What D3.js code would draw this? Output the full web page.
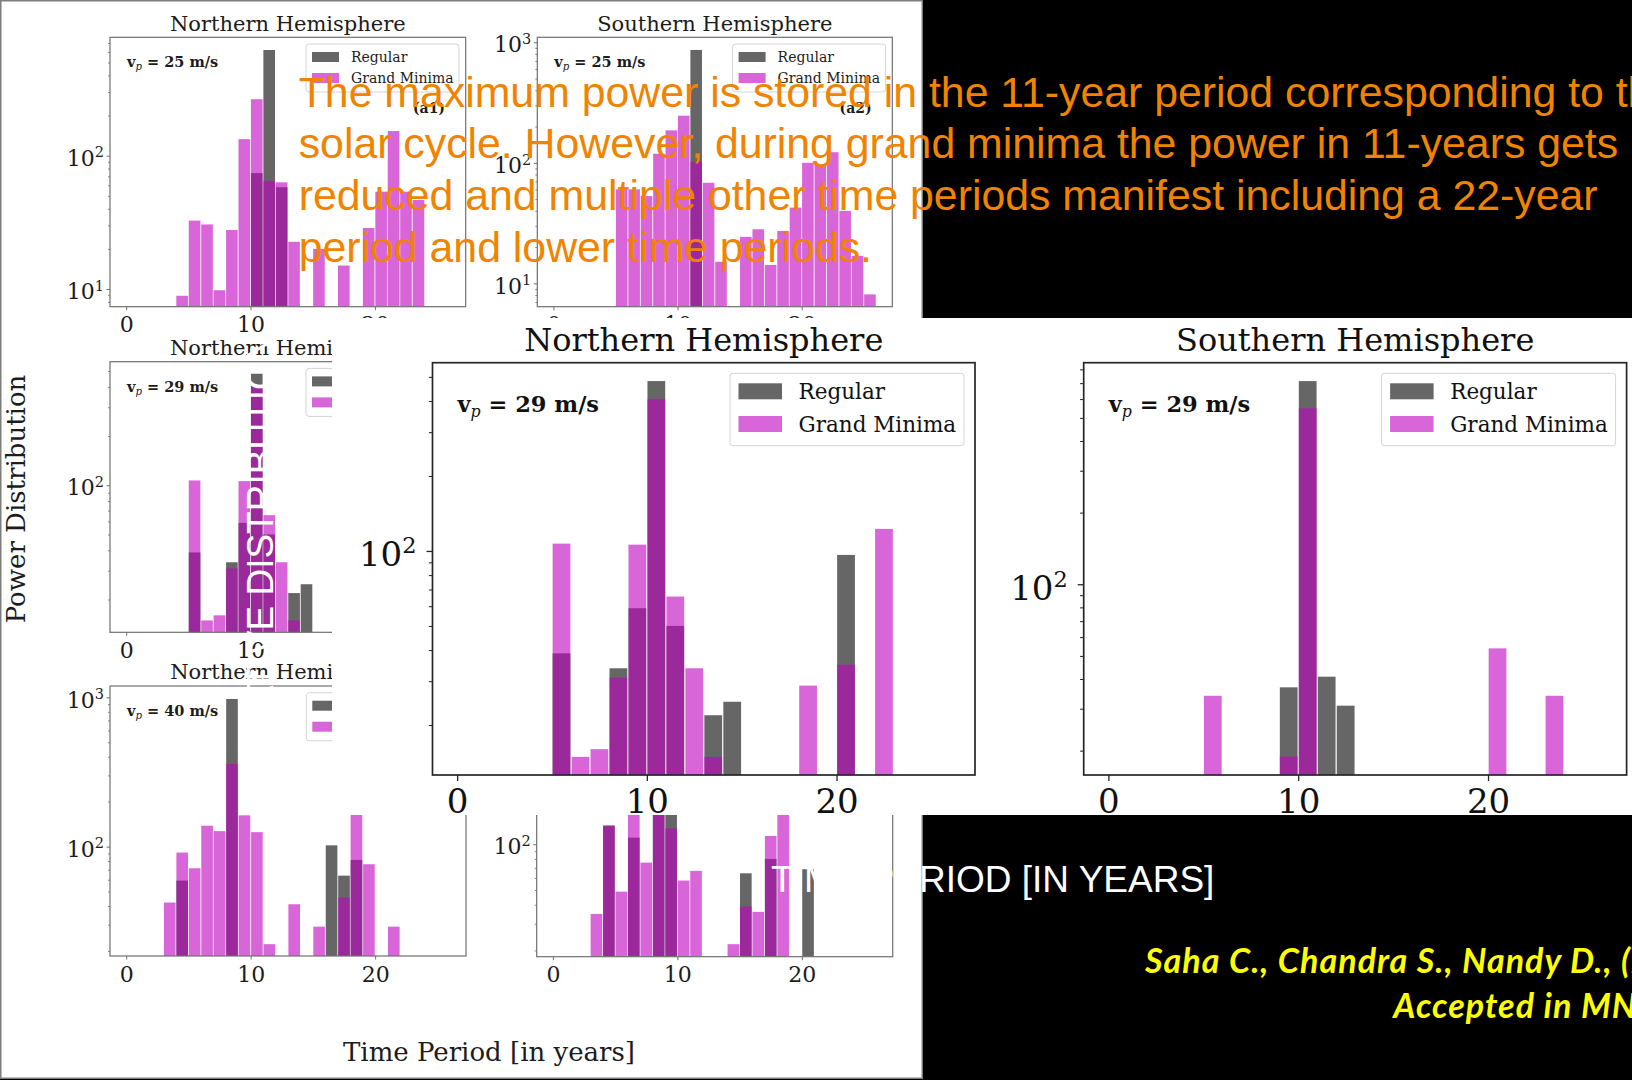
<!DOCTYPE html>
<html>
<head>
<meta charset="utf-8">
<script src="https://cdn.jsdelivr.net/npm/d3@7"></script>
<style>
  html, body { margin: 0; padding: 0; background: #000; }
  svg { display: block; }
</style>
</head>
<body>
<svg id="slide" width="1632" height="1080"></svg>
<script>
// ---------------------------------------------------------------
// Histogram bins: periods in years, one-year bins starting at 0..25
// ---------------------------------------------------------------
const binStarts = [0,1,2,3,4,5,6,7,8,9,10,11,12,13,14,15,16,17,18,19,20,21,22,23,24,25];
const binWidth = 1;
const periodTicks = [0, 10, 20];
const seriesNames = ["Regular", "Grand Minima"];

// Northern hemisphere, vp = 25 m/s
const northV25Regular = [0,0,0,0,0,0,0,0,0,0,74,620,58,0,0,0,0,0,0,0,0,0,0,0,0,0];
const northV25Minima  = [0,0,0,0,8.9,32.6,30.5,9.8,27.7,133,265,64.6,63.1,22.6,0,20,0,15,0,28.7,53.7,153,53.7,46.5,0,0];
// Southern hemisphere, vp = 25 m/s
const southV25Regular = [0,0,0,0,0,0,0,0,0,0,0,864,0,0,0,0,0,0,0,0,0,0,0,0,0,0];
const southV25Minima  = [0,0,0,0,0,60.2,60.2,53,119,186,246,102,68.3,15.1,0,24.3,28.1,14.2,27.2,42.5,100,96.9,122.5,39.9,16.9,8.1];
// Northern hemisphere, vp = 29 m/s
const northV29Regular = [0,0,0,0,0,38.8,0,0,33.8,58.9,481,50,0,21.9,24.8,0,0,0,0,0,96.4,0,0,0,0,0];
const northV29Minima  = [0,0,0,0,0,107,14.9,16,31,106,406,65.6,33.8,14.9,0,0,0,0,28.8,0,34.9,0,122.6,0,0,0];
// Southern hemisphere, vp = 29 m/s
const southV29Regular = [0,0,0,0,0,0,0,0,0,36.9,714,40.9,30.9,0,0,0,0,0,0,0,0,0,0,0,0,0];
const southV29Minima  = [0,0,0,0,0,34,0,0,0,18.9,549,0,0,0,0,0,0,0,0,0,53.8,0,0,34,0,0];
// Northern hemisphere, vp = 40 m/s
const northV40Regular = [0,0,0,0,59.2,0,0,0,975,0,0,0,0,0,0,0,102,63.9,81.4,0,0,0,0,0,0,0];
const northV40Minima  = [0,0,0,42.2,91.2,71.6,138,127,358,162,125,22.2,0,41.1,0,29.1,0,45.5,163,76.2,0,29.1,0,0,0,0];
// Southern hemisphere, vp = 40 m/s
const southV40Regular = [0,0,0,0,133,0,110.6,0,420,190,0,0,0,0,0,64.4,0,80.1,0,0,68.5,0,0,0,0,0];
const southV40Minima  = [0,0,0,34.8,132,48.8,230,75.7,300,127.4,57.7,66.8,0,0,22,38.9,35.9,113.4,190,0,0,0,0,0,0,0];

// Slide texts
const noteLines = [
  "The maximum power is stored in the 11-year period corresponding to the",
  "solar cycle. However, during grand minima the power in 11-years gets",
  "reduced and multiple other time periods manifest including a 22-year",
  "period and lower time periods."
];
const slideXLabel = "TIME PERIOD [IN YEARS]";
const slideYLabel = "RELATIVE DISTRIBUTION";
const citationLines = ["Saha C., Chandra S., Nandy D., (2022)", "Accepted in MNRAS"];

// ---------------------------------------------------------------
const SERIF = '"DejaVu Serif", serif';
const SANS = '"Liberation Sans", Arial, sans-serif';
const REG_COLOR = "#000000";
const GM_COLOR = "#bf00bf";
const periodDomain = [-1.3, 27.3];

const svg = d3.select("#slide");
let clipCount = 0;

const smallStyle = {
  spine: "#6f6f6f", spineWidth: 1.2, ink: "#1c1c1c",
  tickLen: 3.5, minorLen: 2, tickWidth: 1,
  tickFont: 22, xLabelBase: 25.7, yLabelPad: 6,
  titleFont: 21, titleGap: 6.6,
  legendFont: 14, legend: { right: 6.7, top: 6.7, w: 153, h: 48, px: 6, pw: 27, ph: 10, p1: 8, p2: 29, tx: 45 },
  vpFont: 14.5, vpX: 17, vpY: 30,
  tagFont: 14, tagRight: 20.7, tagY: 76,
  barGap: 0.4
};
const bigStyle = {
  spine: "#262626", spineWidth: 1.7, ink: "#111",
  tickLen: 6, minorLen: 3.6, tickWidth: 1.3,
  tickFont: 34, xLabelBase: 38, yLabelPad: 16,
  titleFont: 32, titleGap: 11.7,
  legendFont: 21.5, legend: { right: 11, top: 10.6, w: 234, h: 72.4, px: 8.5, pw: 43.5, ph: 16, p1: 10, p2: 42.7, tx: 68.6 },
  vpFont: 22.5, vpX: 25, vpY: 49,
  tagFont: 21, tagRight: 30, tagY: 110,
  barGap: 0.6
};

function isPow10(v) { return Math.abs(Math.log10(v) - Math.round(Math.log10(v))) < 1e-9; }

function drawPanel(p) {
  const st = p.style;
  const [x0, y0, x1, y1] = p.box;
  const g = svg.append("g");
  const x = d3.scaleLinear().domain(periodDomain).range([x0, x1]);
  const y = d3.scaleLog().domain(p.yDomain).range([y1, y0]);

  const clipId = "plotclip" + (clipCount++);
  svg.append("clipPath").attr("id", clipId)
    .append("rect").attr("x", x0).attr("y", y0).attr("width", x1 - x0).attr("height", y1 - y0);

  // histogram bars: regular first, grand minima on top (both translucent)
  const barsG = g.append("g").attr("clip-path", `url(#${clipId})`);
  [[p.regular, REG_COLOR], [p.minima, GM_COLOR]].forEach(([vals, color]) => {
    const rows = binStarts.map((b, i) => ({ b, v: vals[i] })).filter(d => d.v > 0);
    barsG.append("g").selectAll("rect").data(rows).join("rect")
      .attr("x", d => x(d.b) + st.barGap)
      .attr("width", d => x(d.b + binWidth) - x(d.b) - 2 * st.barGap)
      .attr("y", d => y(d.v))
      .attr("height", d => y1 - y(d.v))
      .attr("fill", color).attr("fill-opacity", 0.6);
  });

  // x axis
  const gx = g.append("g").attr("transform", `translate(0,${y1})`)
    .call(d3.axisBottom(x).tickValues(periodTicks).tickSize(st.tickLen).tickFormat(d3.format("d")));
  gx.select(".domain").remove();
  gx.attr("color", st.spine).attr("font-family", SERIF).attr("font-size", st.tickFont);
  gx.selectAll(".tick line").attr("stroke-width", st.tickWidth);
  gx.selectAll(".tick text").attr("fill", st.ink).attr("y", st.xLabelBase).attr("dy", null);

  // y axis (log): minor and major ticks
  const all = y.ticks();
  const minors = all.filter(v => !isPow10(v));
  const majors = all.filter(v => isPow10(v));
  const gyMinor = g.append("g").attr("transform", `translate(${x0},0)`)
    .call(d3.axisLeft(y).tickValues(minors).tickSize(st.minorLen).tickFormat(""));
  gyMinor.select(".domain").remove();
  gyMinor.attr("color", st.spine).selectAll(".tick line").attr("stroke-width", st.tickWidth * 0.8);

  const gy = g.append("g").attr("transform", `translate(${x0},0)`)
    .call(d3.axisLeft(y).tickValues(majors).tickSize(st.tickLen).tickFormat(() => "10"));
  gy.select(".domain").remove();
  gy.attr("color", st.spine).attr("font-family", SERIF).attr("font-size", st.tickFont);
  gy.selectAll(".tick line").attr("stroke-width", st.tickWidth);
  gy.selectAll(".tick text")
    .attr("fill", st.ink).attr("x", -st.yLabelPad).attr("dy", st.tickFont * 0.44)
    .each(function (d) {
      d3.select(this).append("tspan")
        .attr("font-size", st.tickFont * 0.66)
        .attr("dy", -st.tickFont * 0.38)
        .text(Math.round(Math.log10(d)));
    });

  // frame
  g.append("rect").attr("x", x0).attr("y", y0).attr("width", x1 - x0).attr("height", y1 - y0)
    .attr("fill", "none").attr("stroke", st.spine).attr("stroke-width", st.spineWidth);

  // title
  g.append("text").attr("x", (x0 + x1) / 2).attr("y", y0 - st.titleGap)
    .attr("text-anchor", "middle").attr("font-family", SERIF).attr("font-size", st.titleFont)
    .attr("fill", st.ink).text(p.title);

  // legend
  const L = st.legend;
  const lx = x1 - L.right - L.w, ly = y0 + L.top;
  const lg = g.append("g");
  lg.append("rect").attr("x", lx).attr("y", ly).attr("width", L.w).attr("height", L.h).attr("rx", 3)
    .attr("fill", "#fff").attr("fill-opacity", 0.8).attr("stroke", "#d4d4d4").attr("stroke-width", 1);
  [[REG_COLOR, L.p1], [GM_COLOR, L.p2]].forEach(([c, py], i) => {
    lg.append("rect").attr("x", lx + L.px).attr("y", ly + py).attr("width", L.pw).attr("height", L.ph)
      .attr("fill", c).attr("fill-opacity", 0.6);
    lg.append("text").attr("x", lx + L.tx).attr("y", ly + py + L.ph)
      .attr("font-family", SERIF).attr("font-size", st.legendFont).attr("fill", st.ink)
      .text(seriesNames[i]);
  });

  // flow speed label
  const vp = g.append("text").attr("x", x0 + st.vpX).attr("y", y0 + st.vpY)
    .attr("font-family", SERIF).attr("font-size", st.vpFont).attr("font-weight", "bold").attr("fill", st.ink);
  vp.append("tspan").text("v");
  vp.append("tspan").attr("font-style", "italic").attr("font-weight", "normal")
    .attr("font-size", st.vpFont * 0.7).attr("dy", st.vpFont * 0.22).text("p");
  vp.append("tspan").attr("dy", -st.vpFont * 0.22).text(` = ${p.speed} m/s`);

  if (p.tag) {
    g.append("text").attr("x", x1 - st.tagRight).attr("y", y0 + st.tagY).attr("text-anchor", "end")
      .attr("font-family", SERIF).attr("font-size", st.tagFont).attr("font-weight", "bold")
      .attr("fill", st.ink).text(p.tag);
  }
}

// ---------------- background and the figure sheet ----------------
svg.append("rect").attr("width", 1632).attr("height", 1080).attr("fill", "#000");
svg.append("rect").attr("x", 0.75).attr("y", 0.75).attr("width", 921.5).attr("height", 1077.5)
  .attr("fill", "#fff").attr("stroke", "#7d7d7d").attr("stroke-width", 1.5);

const sheetPanels = [
  { box: [110, 37.3, 465.7, 306.7], yDomain: [7.37, 772], regular: northV25Regular, minima: northV25Minima,
    title: "Northern Hemisphere", speed: "25", tag: "(a1)", style: smallStyle },
  { box: [537.3, 37.3, 892.3, 306.7], yDomain: [6.4, 1100], regular: southV25Regular, minima: southV25Minima,
    title: "Southern Hemisphere", speed: "25", tag: "(a2)", style: smallStyle },
  { box: [110, 361.7, 465.7, 632.3], yDomain: [12.6, 570], regular: northV29Regular, minima: northV29Minima,
    title: "Northern Hemisphere", speed: "29", tag: "(b1)", style: smallStyle },
  { box: [110, 686, 466, 956], yDomain: [18.5, 1191], regular: northV40Regular, minima: northV40Minima,
    title: "Northern Hemisphere", speed: "40", tag: "(c1)", style: smallStyle },
  { box: [536.7, 686, 892.7, 956.7], yDomain: [18.2, 1100], regular: southV40Regular, minima: southV40Minima,
    title: "Southern Hemisphere", speed: "40", tag: "(c2)", style: smallStyle }
];
sheetPanels.forEach(drawPanel);

// shared axis labels of the figure sheet
svg.append("text").attr("transform", "translate(25,499) rotate(-90)").attr("text-anchor", "middle")
  .attr("font-family", SERIF).attr("font-size", 26).attr("fill", "#1c1c1c").text("Power Distribution");
svg.append("text").attr("x", 489).attr("y", 1061).attr("text-anchor", "middle")
  .attr("font-family", SERIF).attr("font-size", 26).attr("fill", "#1c1c1c").text("Time Period [in years]");

// ---------------- enlarged vp = 29 m/s panels ----------------
svg.append("rect").attr("x", 332).attr("y", 318).attr("width", 1300).attr("height", 497).attr("fill", "#fff");
const zoomPanels = [
  { box: [432.5, 362.7, 975, 775], yDomain: [12.6, 570], regular: northV29Regular, minima: northV29Minima,
    title: "Northern Hemisphere", speed: "29", tag: null, style: bigStyle },
  { box: [1083.7, 362.7, 1626.6, 775], yDomain: [15.8, 853], regular: southV29Regular, minima: southV29Minima,
    title: "Southern Hemisphere", speed: "29", tag: null, style: bigStyle }
];
zoomPanels.forEach(drawPanel);

// ---------------- slide annotations ----------------
const note = svg.append("text").attr("font-family", SANS).attr("font-size", 42.8).attr("fill", "#f08300");
noteLines.forEach((line, i) => {
  note.append("tspan").attr("x", 298.7).attr("y", 106.7 + i * 51.7).text(line);
});

svg.append("text").attr("x", 771).attr("y", 891.7)
  .attr("font-family", SANS).attr("font-size", 37)
  .attr("fill", "#fff").text(slideXLabel);

svg.append("text").attr("transform", "translate(273,782) rotate(-90)")
  .attr("font-family", SANS).attr("font-size", 37)
  .attr("fill", "#fff").text(slideYLabel);

const cite = svg.append("text").attr("font-family", "Lato, 'Open Sans', sans-serif")
  .attr("font-size", 34).attr("letter-spacing", 1.05)
  .attr("font-weight", "bold").attr("font-style", "italic").attr("fill", "#ffff00");
cite.append("tspan").attr("x", 1145).attr("y", 973.3).text(citationLines[0]);
cite.append("tspan").attr("x", 1393.3).attr("y", 1018.3).text(citationLines[1]);
</script>
</body>
</html>
